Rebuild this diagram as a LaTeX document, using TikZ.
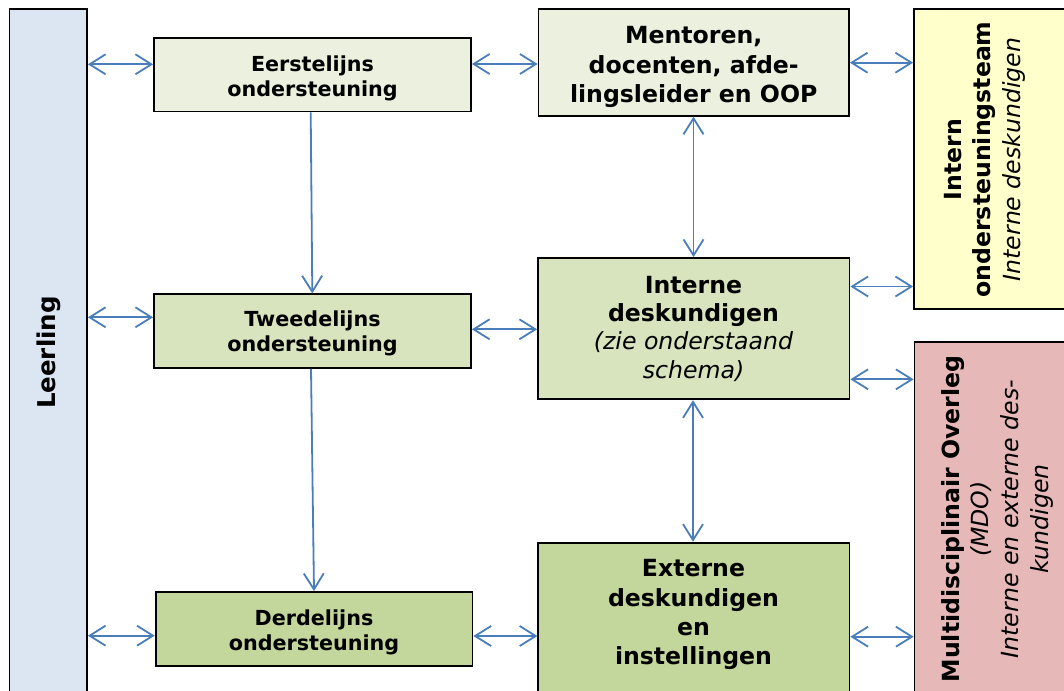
\documentclass[tikz,border=0pt]{standalone}
\usepackage{fontspec}
\setmainfont{DejaVu Sans}
\usetikzlibrary{arrows.meta}
\definecolor{arrowblue}{HTML}{4A7EBB}
\definecolor{leerfill}{HTML}{DCE6F2}
\definecolor{lightgreen}{HTML}{EBF1DE}
\definecolor{midgreen}{HTML}{D7E4BD}
\definecolor{darkgreen}{HTML}{C3D69B}
\definecolor{paleyellow}{HTML}{FFFFCC}
\definecolor{palered}{HTML}{E6B9B8}
\tikzset{
  box/.style={draw=black, line width=1.8pt, inner sep=0pt, rectangle},
  barb/.tip={Straight Barb[length=16pt,width=20pt]},
  lnk/.style={draw=arrowblue, line width=1.8pt, barb-barb},
  dnarrow/.style={draw=arrowblue, line width=1.8pt, -barb},
  smalltxt/.style={font=\fontsize{20.7}{25}\selectfont\bfseries, align=center, inner sep=0pt},
  bigtxt/.style={font=\fontsize{23.6}{#1}\selectfont, align=center, inner sep=0pt},
}
\begin{document}
\begin{tikzpicture}[x=1pt,y=1pt]
\useasboundingbox (0,0) rectangle (1064,-690);
\clip (0,0) rectangle (1064,-690);
% boxes
\node[box, fill=leerfill, minimum width=77.5pt, minimum height=691pt] (leer) at (48.25,-354.5) {};
\node[box, fill=lightgreen, minimum width=317pt, minimum height=73.5pt] (eerst) at (312.5,-74.75) {};
\node[box, fill=lightgreen, minimum width=310.5pt, minimum height=106.7pt] (ment) at (693.75,-62.35) {};
\node[box, fill=paleyellow, minimum width=166pt, minimum height=300pt] (intern) at (997,-159) {};
\node[box, fill=midgreen, minimum width=317pt, minimum height=73.7pt] (tweede) at (312.5,-331.15) {};
\node[box, fill=midgreen, minimum width=311.5pt, minimum height=141.3pt] (interne) at (693.75,-328.65) {};
\node[box, fill=palered, minimum width=165.5pt, minimum height=358pt] (mdo) at (997.25,-521) {};
\node[box, fill=darkgreen, minimum width=316.9pt, minimum height=74pt] (derde) at (314.05,-629) {};
\node[box, fill=darkgreen, minimum width=311.2pt, minimum height=157.3pt] (extern) at (693.9,-621.35) {};
% texts
\node[font=\fontsize{24.5}{29.6}\selectfont\bfseries, inner sep=0pt, rotate=90] (leerT) at (49.1,-352.5) {\strut Leerling};
\node[smalltxt] (eerstT) at (312.5,-79.2) {\strut Eerstelijns\\\strut ondersteuning};
\node[smalltxt] (tweedeT) at (312.5,-334.2) {\strut Tweedelijns\\\strut ondersteuning};
\node[smalltxt] (derdeT) at (314,-632.5) {\strut Derdelijns\\\strut ondersteuning};
\node[bigtxt=29.7] (mentT) at (693.7,-67.1) {\strut\textbf{Mentoren,}\\\strut\textbf{docenten, afde-}\\\strut\textbf{lingsleider en OOP}};
\node[bigtxt=28.3] (interneT) at (693.5,-330.1) {\strut\textbf{Interne}\\\strut\textbf{deskundigen}\\\strut\textit{(zie onderstaand}\\\strut\textit{schema)}};
\node[bigtxt=29.4] (externT) at (693.5,-615) {\strut\textbf{Externe}\\\strut\textbf{deskundigen}\\\strut\textbf{en}\\\strut\textbf{instellingen}};
\node[bigtxt=29.75, rotate=90] (internT) at (984.8,-159.5) {\strut\textbf{Intern}\\\strut\textbf{ondersteuningsteam}\\\strut\textit{Interne deskundigen}};
\node[bigtxt=29.7, rotate=90] (mdoT) at (997.6,-519) {\strut\textbf{Multidisciplinair Overleg}\\\strut\textit{(MDO)}\\\strut\textit{Interne en externe des-}\\\strut\textit{kundigen}};
% connectors
\draw[lnk] (leer.east |- 0,-64.3) -- (eerst.west |- 0,-64.3);
\draw[lnk] (eerst.east |- 0,-64) -- (ment.west |- 0,-64);
\draw[lnk] (ment.east |- 0,-62.7) -- (intern.west |- 0,-62.7);
\draw[lnk] (ment.south -| 693.5,0) -- (interne.north -| 693.5,0);
\draw[lnk] (interne.east |- 0,-286.5) -- (intern.west |- 0,-286.5);
\draw[lnk] (interne.east |- 0,-379.3) -- (mdo.west |- 0,-379.3);
\draw[lnk] (leer.east |- 0,-317.3) -- (tweede.west |- 0,-317.3);
\draw[lnk] (tweede.east |- 0,-329.3) -- (interne.west |- 0,-329.3);
\draw[lnk] (interne.south -| 693,0) -- (extern.north -| 693,0);
\draw[lnk] (leer.east |- 0,-635.7) -- (derde.west |- 0,-635.7);
\draw[lnk] (derde.east |- 0,-636) -- (extern.west |- 0,-636);
\draw[lnk] (extern.east |- 0,-636.7) -- (mdo.west |- 0,-636.7);
\draw[dnarrow] (eerst.south -| 310.7,0) -- (tweede.north -| 312.3,0);
\draw[dnarrow] (tweede.south -| 311,0) -- (derde.north -| 314,0);
\end{tikzpicture}
\end{document}
